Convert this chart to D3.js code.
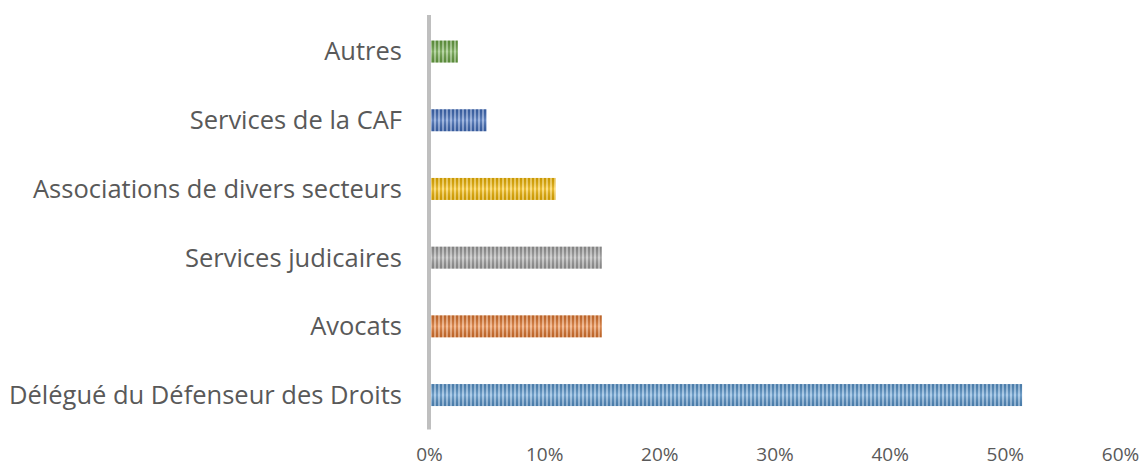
<!DOCTYPE html>
<html>
<head>
<meta charset="utf-8">
<script src="https://cdn.jsdelivr.net/npm/d3@7"></script>
<style>
  body { margin: 0; background: #fff; }
  text { font-family: "Open Sans", sans-serif; fill: #595959; }
</style>
</head>
<body>
<div id="chart"></div>
<script>
// Données
const categories = [
  "Délégué du Défenseur des Droits",
  "Avocats",
  "Services judicaires",
  "Associations de divers secteurs",
  "Services de la CAF",
  "Autres",
];
const values = [0.515, 0.15, 0.15, 0.11, 0.05, 0.025];
const barColors = ["#5b9bd5", "#ed7d31", "#a5a5a5", "#ffc000", "#4472c4", "#70ad47"];
const xTicks = [0, 0.1, 0.2, 0.3, 0.4, 0.5, 0.6];

const width = 1143;
const height = 467;
const margin = { top: 17.2, right: 23, bottom: 37.6, left: 429 };

const svg = d3
  .select("div#chart")
  .append("svg")
  .attr("width", width)
  .attr("height", height);

// Motifs rayés (un par couleur)
const defs = svg.append("defs");
const shade = defs
  .append("linearGradient")
  .attr("id", "shade")
  .attr("x1", 0).attr("y1", 0).attr("x2", 0).attr("y2", 1);
shade.append("stop").attr("offset", "0%").attr("stop-color", "#000").attr("stop-opacity", 0.1);
shade.append("stop").attr("offset", "50%").attr("stop-color", "#fff").attr("stop-opacity", 0.2);
shade.append("stop").attr("offset", "100%").attr("stop-color", "#000").attr("stop-opacity", 0.1);

barColors.forEach((c, i) => {
  const base = d3.color(c);
  const light = d3.interpolateRgb(base, "#fff")(0.4);
  const p = defs
    .append("pattern")
    .attr("id", "stripe" + i)
    .attr("patternUnits", "userSpaceOnUse")
    .attr("width", 4)
    .attr("height", 4);
  p.append("rect").attr("width", 4).attr("height", 4).attr("fill", light);
  p.append("rect").attr("width", 2).attr("height", 4).attr("fill", base.darker(0.35));
});

// Échelles
const x = d3.scaleLinear().domain([0, 0.6]).range([margin.left, width - margin.right]);
const y = d3
  .scaleBand()
  .domain(categories)
  .range([height - margin.bottom, margin.top])
  .paddingInner(0.68)
  .paddingOuter(0.34);

// Barres
const bars = svg.append("g");
bars
  .selectAll("rect.bar")
  .data(categories)
  .join("rect")
  .attr("class", "bar")
  .attr("x", x(0))
  .attr("y", (d) => y(d))
  .attr("width", (d, i) => x(values[i]) - x(0))
  .attr("height", y.bandwidth())
  .attr("fill", (d, i) => `url(#stripe${i})`);
bars
  .selectAll("rect.shade")
  .data(categories)
  .join("rect")
  .attr("class", "shade")
  .attr("x", x(0))
  .attr("y", (d) => y(d))
  .attr("width", (d, i) => x(values[i]) - x(0))
  .attr("height", y.bandwidth())
  .attr("fill", "url(#shade)");

// Axe Y (ligne grise)
svg
  .append("line")
  .attr("x1", x(0))
  .attr("x2", x(0))
  .attr("y1", 15)
  .attr("y2", height - margin.bottom)
  .attr("stroke", "#bfbfbf")
  .attr("stroke-width", 4);

// Libellés des catégories
svg
  .append("g")
  .selectAll("text")
  .data(categories)
  .join("text")
  .attr("x", 402)
  .attr("y", (d) => y(d) + y.bandwidth() / 2)
  .attr("dy", "0.35em")
  .attr("text-anchor", "end")
  .style("font-size", "25.5px")
  .text((d) => d);

// Axe X (étiquettes seulement)
const xAxis = d3
  .axisBottom(x)
  .tickValues(xTicks)
  .tickFormat(d3.format(".0%"))
  .tickSize(0)
  .tickPadding(0);
const xAxisGroup = svg
  .append("g")
  .attr("transform", `translate(0, 461)`)
  .call(xAxis);
xAxisGroup.select(".domain").remove();
xAxisGroup
  .selectAll("text")
  .attr("dy", 0)
  .attr("y", 0)
  .style("font-size", "19px")
  .style("fill", "#595959");
</script>
</body>
</html>
